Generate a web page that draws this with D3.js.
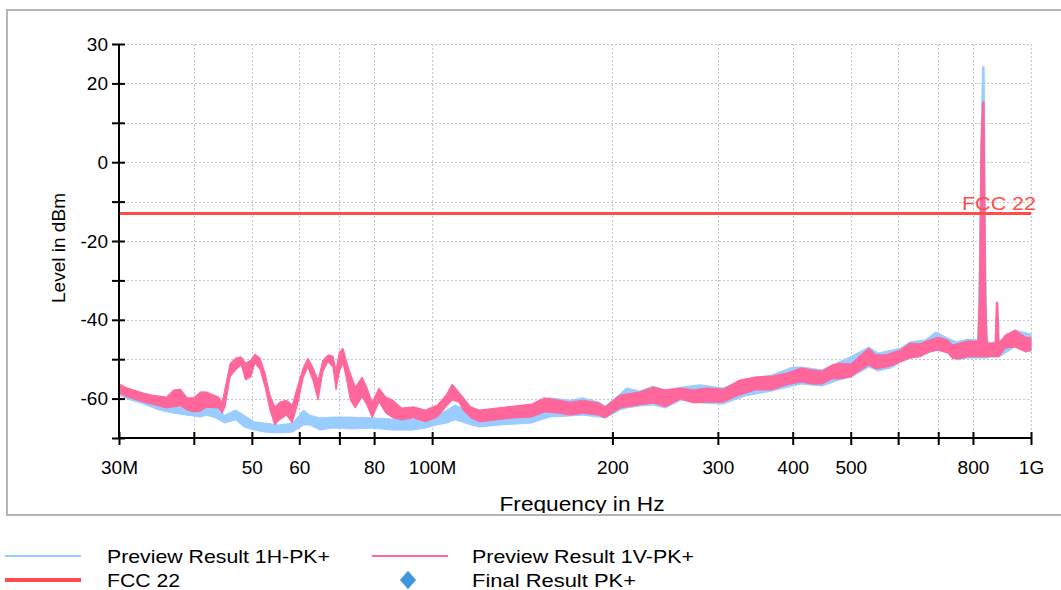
<!DOCTYPE html>
<html>
<head>
<meta charset="utf-8">
<script src="https://cdn.jsdelivr.net/npm/d3@7/dist/d3.min.js"></script>
<style>
  html, body { margin: 0; padding: 0; background: #ffffff; }
  svg { display: block; }
  text { font-family: "Liberation Sans", Arial, sans-serif; }
</style>
</head>
<body>
<svg id="chart" width="1061" height="590"></svg>
<script>
// Frequency axis (MHz)
const freqTicks = [30, 40, 50, 60, 70, 80, 100, 200, 300, 400, 500, 600, 700, 800, 1000];
const freqLabelValues = [30, 50, 60, 80, 100, 200, 300, 400, 500, 800, 1000];
const freqLabelTexts = ["30M", "50", "60", "80", "100M", "200", "300", "400", "500", "800", "1G"];

// Level axis (dBm)
const levelTicks = [30, 20, 10, 0, -10, -20, -30, -40, -50, -60, -70];
const levelLabels = [30, 20, 0, -20, -40, -60];

// FCC 22 limit (dBm)
const limitName = "FCC 22";
const limitLevel = -13;

// Preview Result 1V-PK+ : peak band (upper / lower envelope)
const vFreq = [30, 31, 33, 34, 36, 37, 38, 39, 40, 41, 42, 44, 44.6, 45.1, 46, 47, 48, 48.8, 49.8, 50.6,
  51.6, 52.6, 53.6, 54.6, 55.6, 57.1, 58.4, 59.7, 60.9, 62, 63.2, 64.5, 65.7, 67, 68.3, 69.1, 70, 71, 72, 73,
  74.4, 76.4, 77.8, 79.4, 81.5, 83.7, 86, 89, 93, 97.5, 102, 105.5, 108, 110.8, 112.6, 116, 120, 128, 137, 146.5,
  154, 163, 170, 178.5, 190, 194.4, 206, 222, 234, 245, 260, 273, 288, 306, 326, 347, 369, 391, 414, 430,
  448, 465, 478, 500, 520, 536, 551, 573, 590, 605, 628, 652, 676, 700, 726, 740, 760, 783, 815, 820,
  825, 830, 835, 840, 845, 855, 871, 875, 880, 885, 905, 940, 980, 1000];
const vHigh = [-56.3, -57.3, -58.6, -59.1, -59.6, -57.8, -57.6, -59.8, -59.8, -58.3, -58.3, -59.6, -60.9, -57.3, -51.0, -49.7, -49.4, -51.0, -50.2, -48.7,
  -49.7, -53.5, -59.1, -62.1, -60.9, -60.4, -61.6, -56.5, -52.2, -49.7, -52.0, -55.3, -50.2, -48.9, -49.2, -52.7, -48.2, -47.2, -50.7, -53.5,
  -57.1, -54.5, -57.1, -60.9, -57.3, -59.6, -60.4, -62.4, -62.1, -62.9, -61.6, -59.1, -56.3, -58.3, -59.6, -62.1, -62.9, -62.4, -61.9, -61.4,
  -59.8, -60.4, -60.9, -60.4, -61.1, -62.1, -59.1, -58.3, -57.1, -57.8, -57.3, -57.8, -57.3, -57.6, -55.3, -54.5, -54.3, -53.5, -52.2, -52.7,
  -53.0, -51.5, -51.0, -51.2, -48.9, -47.2, -48.9, -48.9, -48.2, -47.7, -45.9, -46.1, -45.1, -44.4, -45.1, -46.4, -45.9, -45.4, -45.4, -34.2,
  4.4, 15.3, 15.3, -34.2, -45.9, -45.9, -45.9, -35.5, -35.5, -45.9, -43.9, -42.6, -44.4, -44.6];
const vLow = [-58.6, -59.6, -60.9, -61.4, -62.4, -62.1, -61.9, -62.9, -63.4, -63.2, -62.2, -62.4, -63.7, -62.1, -54.5, -52.7, -51.5, -55.3, -54.5, -51.0,
  -52.7, -57.1, -62.9, -66.7, -65.4, -64.2, -66.2, -61.1, -54.8, -52.0, -55.3, -60.4, -53.2, -50.7, -52.0, -57.8, -53.2, -51.0, -55.3, -60.4,
  -62.4, -59.6, -61.6, -64.9, -60.9, -63.7, -64.9, -65.4, -64.9, -65.9, -64.7, -62.1, -60.4, -60.9, -62.9, -64.9, -65.9, -65.4, -64.9, -64.7,
  -63.4, -63.7, -64.2, -63.7, -64.2, -64.9, -62.4, -61.6, -61.1, -62.1, -60.1, -61.1, -60.9, -60.9, -59.1, -57.8, -57.8, -56.5, -55.8, -56.3,
  -56.3, -55.0, -55.0, -54.5, -52.7, -51.5, -52.5, -52.0, -51.5, -50.7, -49.7, -49.4, -48.2, -47.7, -48.4, -49.9, -49.9, -49.4, -49.4, -49.4,
  -49.4, -49.4, -49.4, -49.4, -49.4, -49.4, -49.4, -49.4, -49.4, -49.4, -47.2, -46.9, -48.2, -47.7];

// Preview Result 1H-PK+ : peak band (upper / lower envelope)
const hFreq = [30, 31, 33, 35, 37, 39, 41, 42, 43.5, 45, 47, 48.5, 50.5, 52.5, 55.5, 58.5, 61, 62.5, 65, 68,
  70, 73, 79.5, 86, 92.5, 97.5, 101.5, 105.9, 109.2, 112.1, 116, 120, 130, 146.5, 157, 170, 178.5, 190, 194.4, 206,
  211, 222, 234, 245, 260, 280, 306, 334, 369, 400, 414, 448, 478, 502, 536, 556, 585, 605, 628, 666,
  693, 726, 751, 783, 815, 820, 825, 830, 835, 840, 845, 855, 890, 940, 1000];
const hHigh = [-56.5, -58.3, -59.6, -61.9, -62.1, -62.4, -61.6, -61.1, -61.6, -64.2, -62.9, -64.2, -65.9, -66.2, -66.7, -66.2, -62.9, -64.2, -64.9, -64.7,
  -64.7, -64.7, -64.9, -65.2, -65.2, -65.4, -64.2, -62.9, -61.6, -62.4, -64.7, -64.9, -62.9, -61.9, -59.8, -60.4, -59.8, -60.9, -61.9, -58.8,
  -57.3, -58.1, -56.8, -57.8, -57.1, -56.5, -57.3, -55.0, -54.0, -52.0, -52.0, -52.7, -50.7, -49.2, -46.9, -48.4, -47.7, -47.2, -45.6, -45.1,
  -43.1, -44.6, -45.6, -44.9, -45.1, -23.0, 6.1, 24.2, 24.2, -23.0, -45.1, -45.9, -45.1, -42.6, -43.6];
const hLow = [-59.1, -60.1, -61.4, -62.9, -63.7, -64.2, -64.7, -64.2, -64.9, -66.2, -65.4, -67.2, -68.0, -68.5, -68.7, -68.5, -66.7, -66.7, -68.0, -67.5,
  -67.5, -67.7, -67.5, -68.0, -68.0, -67.5, -66.7, -66.2, -65.4, -65.9, -66.7, -67.2, -66.7, -66.2, -64.7, -64.4, -64.2, -64.7, -64.9, -62.9,
  -62.4, -61.9, -61.6, -62.4, -60.4, -61.1, -61.4, -59.3, -58.1, -56.8, -56.3, -56.8, -55.3, -54.5, -52.0, -53.0, -52.2, -50.7, -49.9, -48.7,
  -47.7, -48.4, -50.2, -49.7, -49.7, -49.7, -49.7, -49.7, -49.7, -49.7, -49.7, -49.4, -49.2, -46.9, -48.2];

// Legend entries
const legendNames = ["Preview Result 1H-PK+", "Preview Result 1V-PK+", "FCC 22", "Final  Result PK+"];

const colH = "#99ccff";
const colV = "#ff6699";
const colLimit = "#ff4d4d";
const colFinal = "#3f98dc";

const svg = d3.select("#chart");

const x = d3.scaleLog().domain([30, 1000]).range([119, 1031]);
const y = d3.scaleLinear().domain([-70, 30]).range([438, 44]);

// outer chart frame
svg.append("rect")
  .attr("x", 7).attr("y", 10).attr("width", 1080).attr("height", 505)
  .attr("fill", "#ffffff").attr("stroke", "#b4b4b4").attr("stroke-width", 2);

// grid
const grid = svg.append("g").attr("stroke", "#c4c4c4").attr("stroke-width", 1)
  .attr("stroke-dasharray", "2,2");
grid.selectAll("line.h").data(levelTicks.filter(v => v > -70)).join("line")
  .attr("x1", x(30)).attr("x2", x(1000))
  .attr("y1", d => Math.round(y(d)) + 0.5).attr("y2", d => Math.round(y(d)) + 0.5);
grid.selectAll("line.v").data(freqTicks.filter(f => f > 30)).join("line")
  .attr("x1", d => Math.round(x(d)) + 0.5).attr("x2", d => Math.round(x(d)) + 0.5)
  .attr("y1", y(30)).attr("y2", y(-70));

// traces
const band = (fr, hi, lo) => d3.area()
  .x((d, i) => x(fr[i]))
  .y0((d, i) => y(lo[i]))
  .y1((d, i) => y(hi[i]))(fr);

svg.append("path").attr("d", band(hFreq, hHigh, hLow))
  .attr("fill", colH).attr("stroke", colH).attr("stroke-width", 1);
svg.append("path").attr("d", band(vFreq, vHigh, vLow))
  .attr("fill", colV).attr("stroke", colV).attr("stroke-width", 1);

// limit line
svg.append("line")
  .attr("x1", x(30)).attr("x2", x(1000))
  .attr("y1", y(limitLevel)).attr("y2", y(limitLevel))
  .attr("stroke", colLimit).attr("stroke-width", 3);
svg.append("text")
  .attr("x", 1036).attr("y", y(limitLevel) - 3)
  .attr("text-anchor", "end")
  .attr("font-size", 19).attr("fill", colLimit)
  .attr("textLength", 74).attr("lengthAdjust", "spacingAndGlyphs")
  .text(limitName);

// y axis
const yAxis = d3.axisLeft(y).tickValues(levelTicks)
  .tickSize(6).tickPadding(6)
  .tickFormat(d => levelLabels.includes(d) ? d : "");
const gy = svg.append("g").attr("transform", "translate(119,0)").call(yAxis);
gy.select(".domain").attr("stroke", "#000").attr("stroke-width", 2).attr("d", `M0,${y(30)}V${y(-70)}`);
gy.selectAll(".tick line").attr("x1", -7).attr("x2", 6).attr("stroke", "#000").attr("stroke-width", 2);
gy.selectAll(".tick text").attr("font-size", 19).attr("fill", "#000")
  .attr("font-family", "Liberation Sans, Arial, sans-serif").attr("x", -11);

// x axis
const xAxis = d3.axisBottom(x).tickValues(freqTicks)
  .tickSize(7).tickPadding(16)
  .tickFormat(d => {
    const i = freqLabelValues.indexOf(d);
    return i >= 0 ? freqLabelTexts[i] : "";
  });
const gx = svg.append("g").attr("transform", `translate(0,${y(-70)})`).call(xAxis);
gx.select(".domain").attr("stroke", "#000").attr("stroke-width", 2).attr("d", `M${x(30)},0H${x(1000)}`);
gx.selectAll(".tick line").attr("y1", -6).attr("y2", 7).attr("stroke", "#000").attr("stroke-width", 2);
gx.selectAll(".tick text").attr("font-size", 19).attr("fill", "#000")
  .attr("font-family", "Liberation Sans, Arial, sans-serif");

// axis titles
svg.append("text")
  .attr("transform", "translate(65,248) rotate(-90)")
  .attr("text-anchor", "middle").attr("font-size", 19)
  .attr("textLength", 110).attr("lengthAdjust", "spacingAndGlyphs")
  .text("Level in dBm");

svg.append("clipPath").attr("id", "frameClip")
  .append("rect").attr("x", 0).attr("y", 0).attr("width", 1061).attr("height", 513);
svg.append("text")
  .attr("clip-path", "url(#frameClip)")
  .attr("x", 582).attr("y", 511)
  .attr("text-anchor", "middle").attr("font-size", 21)
  .attr("textLength", 165).attr("lengthAdjust", "spacingAndGlyphs")
  .text("Frequency in Hz");

// legend
const legend = svg.append("g");
const legendRows = [
  { kind: "line", color: colH, width: 2, lx: 5, tx: 107, y: 556, name: legendNames[0], len: 223 },
  { kind: "line", color: colV, width: 2, lx: 372, tx: 472, y: 556, name: legendNames[1], len: 222 },
  { kind: "line", color: colLimit, width: 4, lx: 5, tx: 107, y: 580, name: legendNames[2], len: 73 },
  { kind: "diamond", color: colFinal, lx: 372, tx: 472, y: 580, name: legendNames[3], len: 164 }
];
legendRows.forEach(r => {
  if (r.kind === "line") {
    legend.append("line")
      .attr("x1", r.lx).attr("x2", r.lx + 76)
      .attr("y1", r.y).attr("y2", r.y)
      .attr("stroke", r.color).attr("stroke-width", r.width);
  } else {
    legend.append("path")
      .attr("d", d3.symbol(d3.symbolDiamond, 100)())
      .attr("transform", `translate(${r.lx + 36},${r.y}) scale(1.5,1)`)
      .attr("fill", r.color);
  }
  legend.append("text")
    .attr("x", r.tx).attr("y", r.y + 7)
    .attr("font-size", 19).attr("fill", "#000")
    .attr("textLength", r.len).attr("lengthAdjust", "spacingAndGlyphs")
    .text(r.name);
});
</script>
</body>
</html>
